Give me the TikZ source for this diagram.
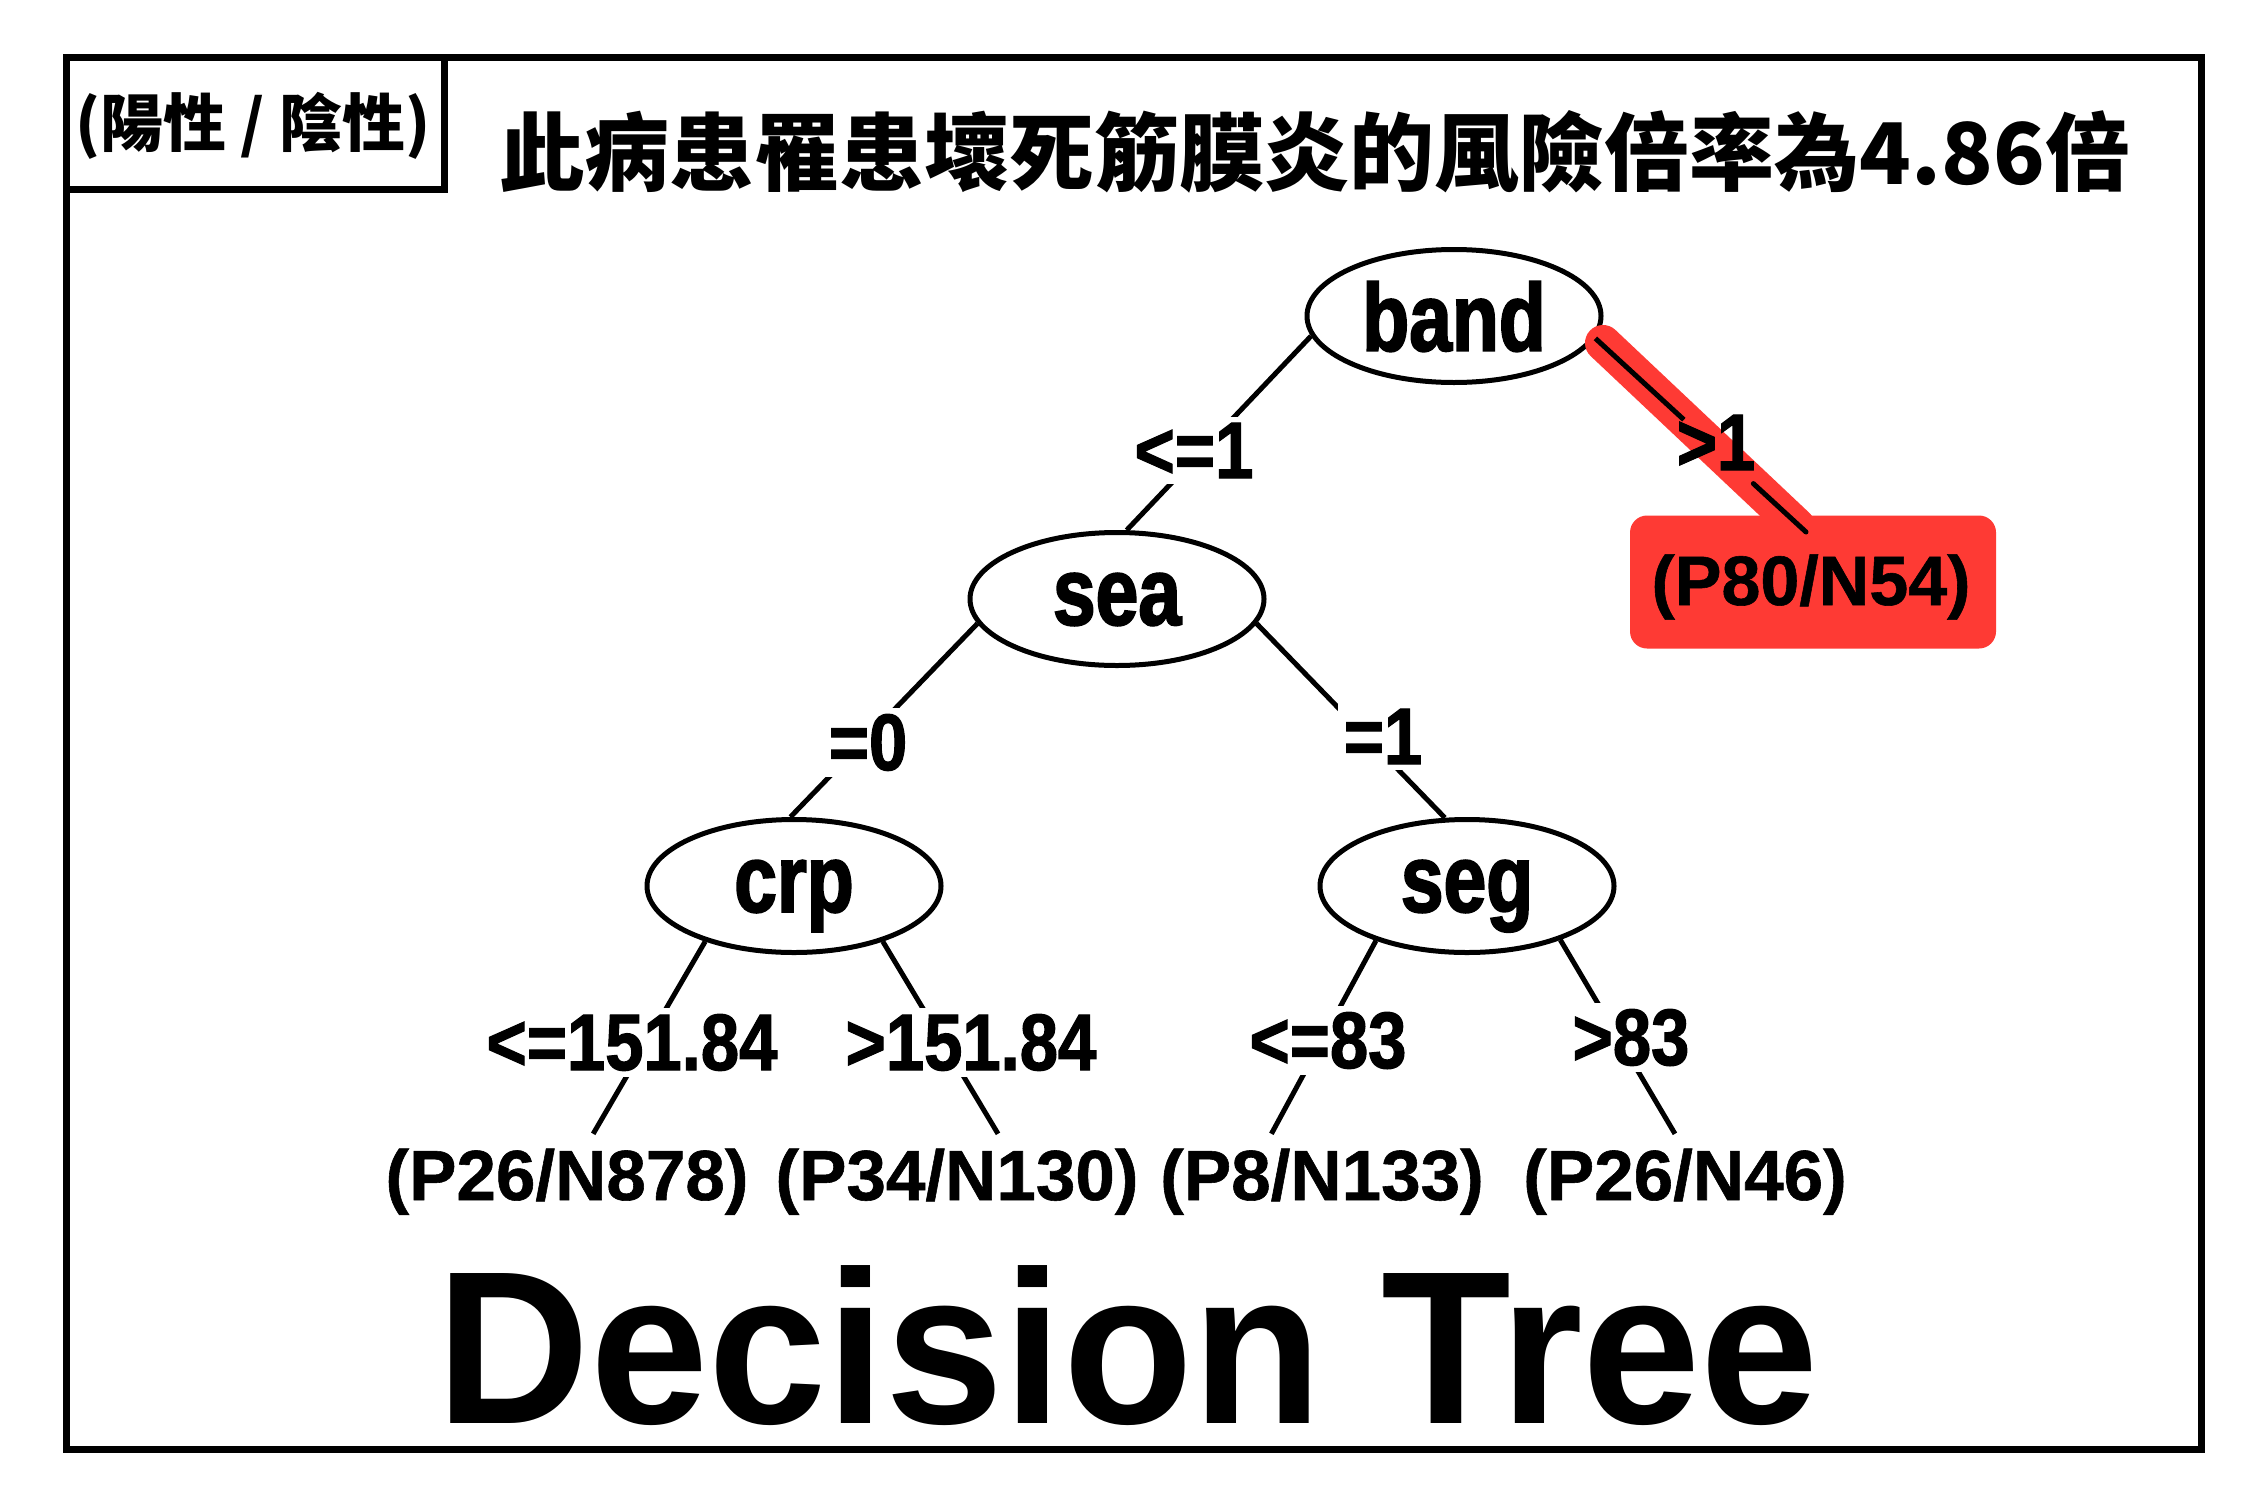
\documentclass[tikz,border=0pt]{standalone}
\usepackage{fontspec}
\setmainfont{Liberation Sans}
\newfontfamily\condnode{Liberation Sans}[FakeStretch=0.80,FakeBold=2]
\newfontfamily\condlab{Liberation Sans}[FakeStretch=0.86,FakeBold=1.5]
\newfontfamily\leaffont{Liberation Sans}[FakeBold=0.8]
\newfontfamily\dtfont{Liberation Sans}[FakeStretch=0.975]
\newfontfamily\cjk{Noto Sans CJK TC}
\usetikzlibrary{shapes.geometric,calc}
\definecolor{hired}{RGB}{254,58,52}
\tikzset{
  treenode/.style={ellipse, draw, line width=5pt, minimum width=294pt, minimum height=133pt,
    inner sep=0pt, text depth=0pt, font=\condnode\bfseries\fontsize{96}{96}\selectfont},
  edgelab/.style={anchor=base, fill=white, inner sep=6pt,
    font=\condlab\bfseries\fontsize{80}{80}\selectfont},
  leaf/.style={anchor=base, inner xsep=2pt, inner ysep=12pt, text height=54pt, text depth=16pt,
    font=\leaffont\bfseries\fontsize{71}{71}\selectfont},
  edge/.style={line width=5pt},
  frame/.style={line width=7pt},
}
\begin{document}
\begin{tikzpicture}[x=1pt,y=-1pt]
\useasboundingbox (0,0) rectangle (2266,1488);
\fill[white] (0,0) rectangle (2266,1488);
% frames
\draw[frame] (66,58) rectangle (2201,1449);
\draw[frame] (66,58) rectangle (444,189);
\node[font=\cjk\bfseries\fontsize{63}{63}\selectfont] (legend) at (253,126) {(陽性 / 陰性)};
\node[font=\cjk\bfseries\fontsize{85}{85}\selectfont] (title) at (1315,152) {此病患罹患壞死筋膜炎的風險倍率為4.86倍};
% tree nodes
\node[treenode] (band) at (1454,316) {band};
\node[treenode] (sea) at (1117,599) {sea};
\node[treenode] (crp) at (794,886) {crp};
\node[treenode] (seg) at (1467,886) {seg};
% highlighted leaf
\node[fill=hired, rounded corners=17pt, minimum width=366pt, minimum height=133pt, inner sep=0pt] (hbox) at (1813,582) {};
\coordinate (rend) at (1806,532);
\draw[hired, line width=36pt, line cap=round] (1603,343) -- (1797,526);
\node[anchor=base, font=\leaffont\bfseries\fontsize{70}{70}\selectfont] (hleaf) at (1811,605) {(P80/N54)};
\draw[edge] (band.351) -- ($(band.351)!0.42!(rend)$);
\draw[edge, line cap=round] ($(band.351)!0.75!(rend)$) -- (rend);
\node[anchor=base, inner sep=0pt, font=\condlab\bfseries\fontsize{80}{80}\selectfont] (l2) at (1716,470) {>1};
% leaves
\node[leaf] (leaf1) at (567,1200) {(P26/N878)};
\node[leaf] (leaf2) at (957,1200) {(P34/N130)};
\node[leaf] (leaf3) at (1322,1200) {(P8/N133)};
\node[leaf] (leaf4) at (1685,1200) {(P26/N46)};
% edges
\draw[edge] (band.188.6) -- (sea.82);
\draw[edge] (sea.190.6) -- (crp.93);
\draw[edge] (sea.350) -- (seg.108);
\draw[edge] (crp.212) -- (leaf1.61);
\draw[edge] (crp.328) -- (leaf2.49.6);
\draw[edge] (seg.211.4) -- (leaf3.137);
\draw[edge] (seg.330) -- (leaf4.102);
% edge labels
\node[edgelab] (l1) at (1194,478) {<=1};
\node[edgelab] (l3) at (868,770) {=0};
\node[edgelab] (l4) at (1383,764) {=1};
\node[edgelab] (l5) at (632,1070) {<=151.84};
\node[edgelab] (l6) at (971,1070) {>151.84};
\node[edgelab] (l7) at (1328,1068) {<=83};
\node[edgelab] (l8) at (1631,1065) {>83};
% caption
\node[anchor=base, inner sep=0pt, font=\dtfont\bfseries\fontsize{218}{218}\selectfont] (caption) at (1128,1423) {Decision Tree};
\end{tikzpicture}
\end{document}
